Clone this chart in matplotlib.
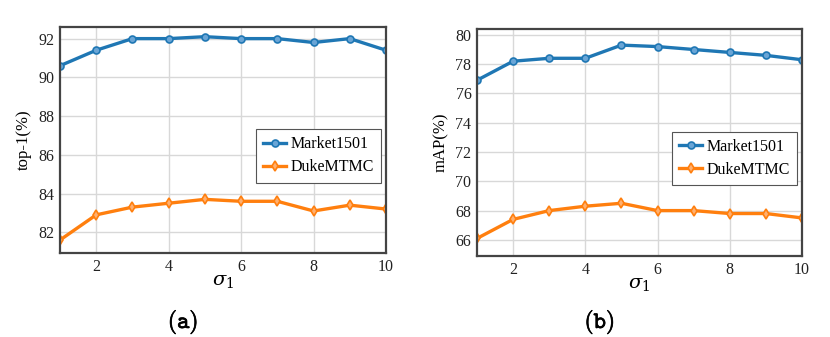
import matplotlib.pyplot as plt
import matplotlib.patheffects as pe

sigma = [1, 2, 3, 4, 5, 6, 7, 8, 9, 10]

top1_market = [90.6, 91.4, 92.0, 92.0, 92.1, 92.0, 92.0, 91.8, 92.0, 91.4]
top1_duke = [81.6, 82.9, 83.3, 83.5, 83.7, 83.6, 83.6, 83.1, 83.4, 83.2]

map_market = [76.9, 78.2, 78.4, 78.4, 79.3, 79.2, 79.0, 78.8, 78.6, 78.3]
map_duke = [66.1, 67.4, 68.0, 68.3, 68.5, 68.0, 68.0, 67.8, 67.8, 67.5]

plt.rcParams["font.family"] = ["Liberation Serif", "DejaVu Serif"]
plt.rcParams["mathtext.fontset"] = "dejavuserif"

fig = plt.figure(figsize=(8.3, 3.37), dpi=100)
ax_a = fig.add_axes([60 / 830, 1 - 253 / 337, 326 / 830, 226 / 337])
ax_b = fig.add_axes([477 / 830, 1 - 256 / 337, 325 / 830, 227 / 337])


def draw(ax, market, duke, ylabel, ylim, yticks, caption, cap_y):
    ax.plot(sigma, market, color="#1f77b4", lw=2.4, marker="o", ms=5,
            mfc="#6aa5d6", mec="#1f77b4", mew=1.2, label="Market1501")
    ax.plot(sigma, duke, color="#ff7f0e", lw=2.4, marker="d", ms=5.5,
            mfc="#ffb070", mec="#ff7f0e", mew=1.2, label="DukeMTMC")
    ax.set_xlim(1, 10)
    ax.set_ylim(*ylim)
    ax.set_xticks([2, 4, 6, 8, 10])
    ax.set_yticks(yticks)
    ax.grid(True, color="#d8d8d8", lw=1)
    ax.set_axisbelow(True)
    ax.tick_params(length=0, labelsize=11.5, pad=4, labelcolor="#222222")
    for s in ax.spines.values():
        s.set_color("#444444")
        s.set_linewidth(1.6)
    ax.set_ylabel(ylabel, fontsize=12, labelpad=5)
    ax.set_xlabel(r"$\sigma_1$", fontsize=14, labelpad=-1)
    leg = ax.legend(loc="center right", bbox_to_anchor=(0.985, 0.43),
                    fontsize=11.5, fancybox=False, framealpha=1,
                    handlelength=1.4, handletextpad=0.3, borderpad=0.45,
                    labelspacing=0.45, borderaxespad=0)
    leg.get_frame().set_edgecolor("#555555")
    leg.get_frame().set_linewidth(0.8)
    t = ax.text(0.5 - 40 / 326, cap_y, r"$\mathtt{(" + caption + ")}$",
                transform=ax.transAxes, ha="center", va="center",
                fontsize=17, math_fontfamily="cm")
    t.set_path_effects([pe.withStroke(linewidth=0.5, foreground="black")])


draw(ax_a, top1_market, top1_duke, "top-1(%)", (80.93, 92.6),
     [82, 84, 86, 88, 90, 92], "a", -69 / 226)
draw(ax_b, map_market, map_duke, "mAP(%)", (64.9, 80.4),
     [66, 68, 70, 72, 74, 76, 78, 80], "b", -66 / 227)

fig.savefig("out.png", dpi=100)
